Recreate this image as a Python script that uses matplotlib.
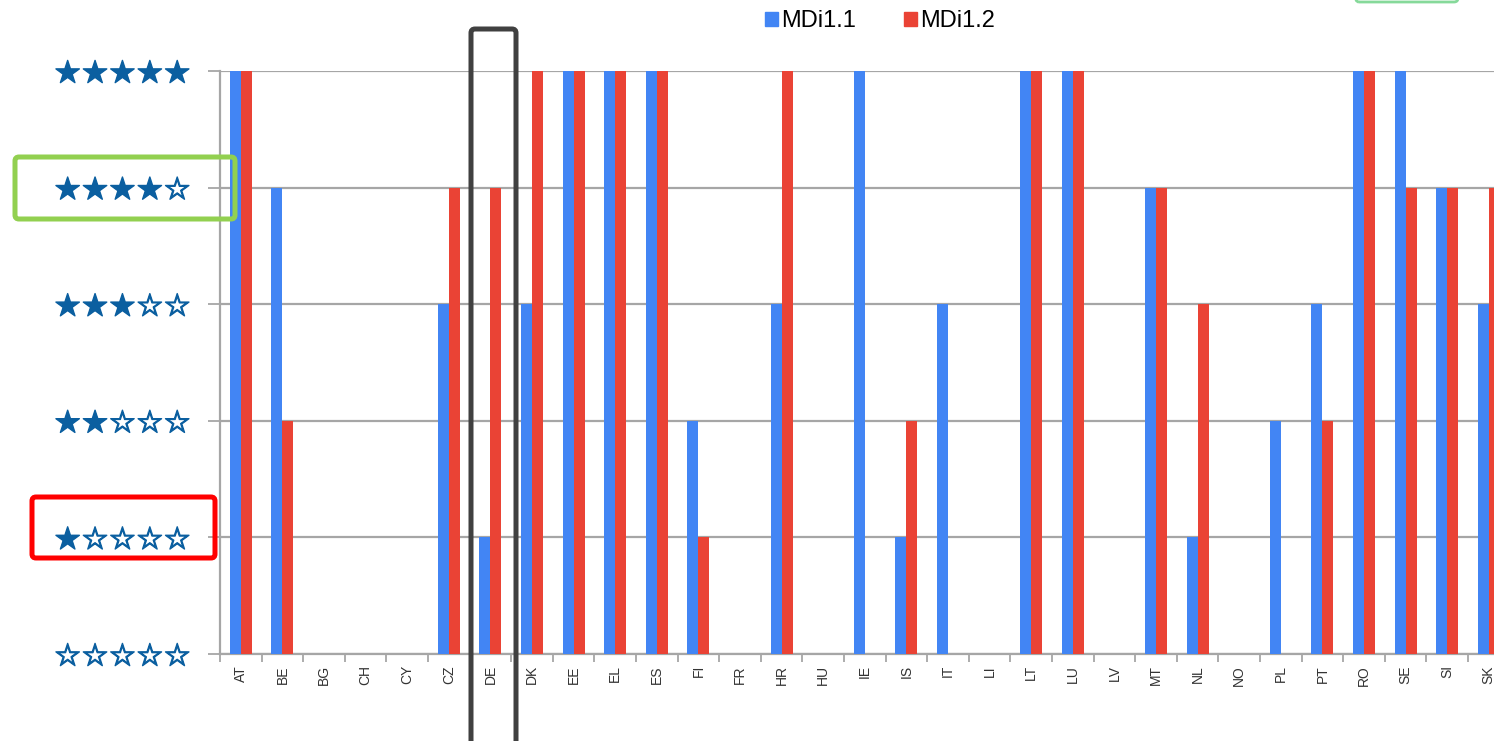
import numpy as np
import matplotlib.pyplot as plt
import matplotlib.patheffects as pe
from matplotlib.patches import FancyBboxPatch, Patch
from matplotlib.transforms import IdentityTransform

W, H = 1494, 741

countries = ['AT', 'BE', 'BG', 'CH', 'CY', 'CZ', 'DE', 'DK', 'EE', 'EL', 'ES', 'FI', 'FR', 'HR', 'HU',
             'IE', 'IS', 'IT', 'LI', 'LT', 'LU', 'LV', 'MT', 'NL', 'NO', 'PL', 'PT', 'RO', 'SE', 'SI', 'SK']
mdi11 = [5, 4, 0, 0, 0, 3, 1, 3, 5, 5, 5, 2, 0, 3, 0, 5, 1, 3, 0, 5, 5, 0, 4, 1, 0, 2, 3, 5, 5, 4, 3]
mdi12 = [5, 2, 0, 0, 0, 4, 4, 5, 5, 5, 5, 1, 0, 5, 0, 0, 2, 0, 0, 5, 5, 0, 4, 3, 0, 0, 2, 5, 4, 4, 4]
star_labels = ['☆☆☆☆☆', '★☆☆☆☆', '★★☆☆☆', '★★★☆☆', '★★★★☆', '★★★★★']

blue = '#4285f4'
red = '#ea4335'
star_col = '#0b5fa0'
grid_col = '#a6a6a6'

fig = plt.figure(figsize=(W / 100, H / 100), dpi=100)
# axes run off the right edge, like the cropped screenshot
ax = fig.add_axes([220 / W, 87 / H, (W - 220) / W, (654 - 71) / H])

x = np.arange(len(countries))
bw = 0.265
ax.bar(x - bw / 2, mdi11, bw, color=blue, label='MDi1.1', zorder=3)
ax.bar(x + bw / 2, mdi12, bw, color=red, label='MDi1.2', zorder=3)

ax.set_yticks(range(6))
ax.set_yticklabels(star_labels, fontsize=22, color=star_col, family='DejaVu Sans')
for t in ax.get_yticklabels():
    t.set_path_effects([pe.withStroke(linewidth=1.0, foreground=star_col)])
ax.set_xticks(x)
ax.set_xticklabels(countries, rotation=90, fontsize=10, color='#333333', family='Liberation Sans')
ax.set_xticks(np.arange(-0.5, len(countries), 1), minor=True)
ax.tick_params(axis='x', which='major', length=0, pad=8)
ax.tick_params(axis='x', which='minor', length=6, width=1.3, color=grid_col)
ax.tick_params(axis='y', length=9, width=1.3, color=grid_col, pad=12)

# limits after the ticks, else set_xticks widens them
unit = 41.6
ax.set_xlim(-0.5, -0.5 + (W - 220) / unit)
ax.set_ylim(0, 5)

ax.yaxis.grid(True, color=grid_col, lw=1.6, zorder=0)
for s in ['top', 'right']:
    ax.spines[s].set_visible(False)
for s in ['left', 'bottom']:
    ax.spines[s].set_color(grid_col)
    ax.spines[s].set_linewidth(1.6)

handles = [Patch(color=blue, label='MDi1.1'), Patch(color=red, label='MDi1.2')]
fig.legend(handles=handles, loc='center', bbox_to_anchor=(880 / W, 1 - 21 / H), ncol=2,
           frameon=False, handlelength=0.55, handleheight=0.55, handletextpad=0.15,
           columnspacing=2.0, prop={'family': 'Liberation Sans', 'size': 17})


def box(x0, y0, x1, y1, color, lw=3.6):
    # pixel coords measured from top-left
    p = FancyBboxPatch((x0, H - y1), x1 - x0, y1 - y0,
                       boxstyle='round,pad=0,rounding_size=4',
                       transform=IdentityTransform(), fill=False,
                       edgecolor=color, lw=lw, zorder=10)
    fig.add_artist(p)


box(15, 157, 235, 219, '#92d050')
box(32, 497, 215, 558, '#ff0000')
box(471, 29, 516, 760, '#404040')
box(1355, -10, 1458, 2, '#86d99a', lw=2)

fig.savefig('out.png', dpi=100)
